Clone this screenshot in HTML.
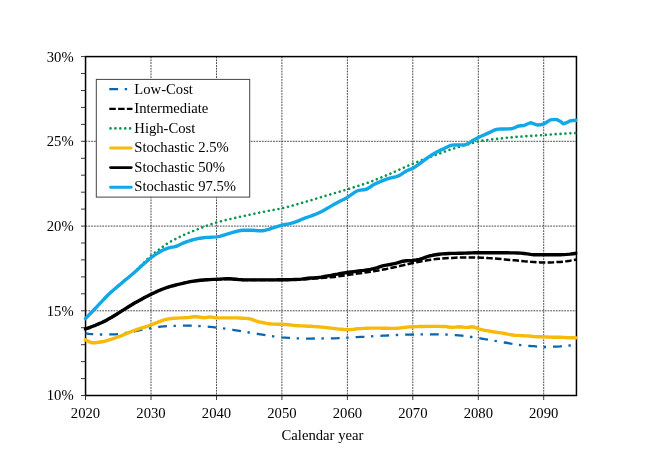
<!DOCTYPE html>
<html><head><meta charset="utf-8"><title>Chart</title>
<style>
html,body{margin:0;padding:0;background:#fff;}
svg{display:block;font-family:"Liberation Serif",serif;font-size:14.67px;fill:#000;}
.grid line{stroke:#2a2a2a;stroke-width:0.85;stroke-dasharray:1.8 1;}
.ticks line{stroke:#222;stroke-width:0.9;}
path{fill:none;stroke-linejoin:round;}
.low{stroke:#0b66b0;stroke-width:2.3;stroke-dasharray:8.8 6.6 2.4 7;stroke-dashoffset:1;}
.inter{stroke:#000;stroke-width:2.5;stroke-dasharray:6.5 2.3;}
.high{stroke:#06964f;stroke-width:2.6;stroke-dasharray:0.01 4.89;stroke-linecap:round;stroke-dashoffset:-2.85;}
.s025{stroke:#f7ba0a;stroke-width:3.4;stroke-linecap:round;}
.s50{stroke:#000;stroke-width:3.4;stroke-linecap:round;}
.s975{stroke:#12a8e8;stroke-width:3.4;stroke-linecap:round;}
.legend .s025,.legend .s50,.legend .s975{stroke-width:2.9;stroke-linecap:round;}
.legend .low,.legend .high{stroke-dashoffset:0;}
.legend .inter{stroke-width:2.3;}
</style></head><body>
<svg width="648" height="468" viewBox="0 0 648 468">
<rect x="0" y="0" width="648" height="468" fill="#fff"/>
<g class="grid"><line x1="151.0" y1="56.6" x2="151.0" y2="395.5"/><line x1="216.5" y1="56.6" x2="216.5" y2="395.5"/><line x1="281.9" y1="56.6" x2="281.9" y2="395.5"/><line x1="347.4" y1="56.6" x2="347.4" y2="395.5"/><line x1="412.8" y1="56.6" x2="412.8" y2="395.5"/><line x1="478.3" y1="56.6" x2="478.3" y2="395.5"/><line x1="543.7" y1="56.6" x2="543.7" y2="395.5"/><line x1="85.5" y1="310.8" x2="576.5" y2="310.8"/><line x1="85.5" y1="226.1" x2="576.5" y2="226.1"/><line x1="85.5" y1="141.3" x2="576.5" y2="141.3"/></g>
<rect x="85.55" y="56.6" width="490.90000000000003" height="338.9" fill="none" stroke="#000" stroke-width="1.5"/>
<g class="ticks"><line x1="81.0" y1="395.5" x2="85.5" y2="395.5"/><line x1="81.0" y1="378.6" x2="85.5" y2="378.6"/><line x1="81.0" y1="361.6" x2="85.5" y2="361.6"/><line x1="81.0" y1="344.7" x2="85.5" y2="344.7"/><line x1="81.0" y1="327.7" x2="85.5" y2="327.7"/><line x1="81.0" y1="310.8" x2="85.5" y2="310.8"/><line x1="81.0" y1="293.8" x2="85.5" y2="293.8"/><line x1="81.0" y1="276.9" x2="85.5" y2="276.9"/><line x1="81.0" y1="259.9" x2="85.5" y2="259.9"/><line x1="81.0" y1="243.0" x2="85.5" y2="243.0"/><line x1="81.0" y1="226.1" x2="85.5" y2="226.1"/><line x1="81.0" y1="209.1" x2="85.5" y2="209.1"/><line x1="81.0" y1="192.2" x2="85.5" y2="192.2"/><line x1="81.0" y1="175.2" x2="85.5" y2="175.2"/><line x1="81.0" y1="158.3" x2="85.5" y2="158.3"/><line x1="81.0" y1="141.3" x2="85.5" y2="141.3"/><line x1="81.0" y1="124.4" x2="85.5" y2="124.4"/><line x1="81.0" y1="107.4" x2="85.5" y2="107.4"/><line x1="81.0" y1="90.5" x2="85.5" y2="90.5"/><line x1="81.0" y1="73.5" x2="85.5" y2="73.5"/><line x1="81.0" y1="56.6" x2="85.5" y2="56.6"/><line x1="85.5" y1="395.5" x2="85.5" y2="400.0"/><line x1="151.0" y1="395.5" x2="151.0" y2="400.0"/><line x1="216.5" y1="395.5" x2="216.5" y2="400.0"/><line x1="281.9" y1="395.5" x2="281.9" y2="400.0"/><line x1="347.4" y1="395.5" x2="347.4" y2="400.0"/><line x1="412.8" y1="395.5" x2="412.8" y2="400.0"/><line x1="478.3" y1="395.5" x2="478.3" y2="400.0"/><line x1="543.7" y1="395.5" x2="543.7" y2="400.0"/></g>
<clipPath id="cp"><rect x="80" y="50" width="497.3" height="350"/></clipPath>
<g class="series" clip-path="url(#cp)">
<path class="low" d="M85.5,333.3 L88.8,333.8 L92.1,334.1 L95.4,334.4 L98.6,334.5 L101.9,334.5 L105.2,334.5 L108.5,334.4 L111.7,334.4 L115.0,334.3 L118.3,334.0 L121.5,333.6 L124.8,333.1 L128.1,332.5 L131.4,332.0 L134.6,331.4 L137.9,330.7 L141.2,330.0 L144.5,329.3 L147.7,328.6 L151.0,328.1 L154.3,327.6 L157.5,327.1 L160.8,326.6 L164.1,326.3 L167.4,326.0 L170.6,325.9 L173.9,325.8 L177.2,325.8 L180.5,325.7 L183.7,325.7 L187.0,325.7 L190.3,325.7 L193.5,325.8 L196.8,325.9 L200.1,326.1 L203.4,326.4 L206.6,326.6 L209.9,326.9 L213.2,327.2 L216.5,327.6 L219.7,327.9 L223.0,328.4 L226.3,328.8 L229.5,329.3 L232.8,329.8 L236.1,330.3 L239.4,330.8 L242.6,331.4 L245.9,331.9 L249.2,332.5 L252.5,333.0 L255.7,333.6 L259.0,334.1 L262.3,334.6 L265.5,335.1 L268.8,335.7 L272.1,336.2 L275.4,336.7 L278.6,337.1 L281.9,337.4 L285.2,337.6 L288.5,337.8 L291.7,338.0 L295.0,338.2 L298.3,338.4 L301.5,338.5 L304.8,338.5 L308.1,338.6 L311.4,338.6 L314.6,338.5 L317.9,338.5 L321.2,338.5 L324.5,338.4 L327.7,338.4 L331.0,338.3 L334.3,338.3 L337.5,338.2 L340.8,338.0 L344.1,337.9 L347.4,337.7 L350.6,337.5 L353.9,337.3 L357.2,337.1 L360.5,336.9 L363.7,336.8 L367.0,336.6 L370.3,336.4 L373.5,336.2 L376.8,336.0 L380.1,335.8 L383.4,335.6 L386.6,335.5 L389.9,335.3 L393.2,335.2 L396.5,335.0 L399.7,334.9 L403.0,334.8 L406.3,334.6 L409.5,334.6 L412.8,334.5 L416.1,334.5 L419.4,334.4 L422.6,334.4 L425.9,334.4 L429.2,334.3 L432.5,334.3 L435.7,334.3 L439.0,334.4 L442.3,334.4 L445.5,334.5 L448.8,334.6 L452.1,334.8 L455.4,335.1 L458.6,335.4 L461.9,335.7 L465.2,336.1 L468.5,336.5 L471.7,337.0 L475.0,337.5 L478.3,338.0 L481.5,338.6 L484.8,339.2 L488.1,339.7 L491.4,340.3 L494.6,340.8 L497.9,341.4 L501.2,342.0 L504.5,342.5 L507.7,343.0 L511.0,343.6 L514.3,344.1 L517.5,344.7 L520.8,345.1 L524.1,345.4 L527.4,345.7 L530.6,346.0 L533.9,346.2 L537.2,346.6 L540.5,346.9 L543.7,347.0 L547.0,347.0 L550.3,346.9 L553.5,346.7 L556.8,346.6 L560.1,346.4 L563.4,346.1 L566.6,345.8 L569.9,345.5 L573.2,345.3 L576.5,345.0"/>
<path class="inter" d="M85.5,328.9 L88.8,327.8 L92.1,326.5 L95.4,325.3 L98.6,323.9 L101.9,322.5 L105.2,320.9 L108.5,319.1 L111.7,317.3 L115.0,315.2 L118.3,313.2 L121.5,311.1 L124.8,309.1 L128.1,307.0 L131.4,305.0 L134.6,303.0 L137.9,301.2 L141.2,299.4 L144.5,297.6 L147.7,296.0 L151.0,294.3 L154.3,292.7 L157.5,291.2 L160.8,289.8 L164.1,288.5 L167.4,287.4 L170.6,286.4 L173.9,285.5 L177.2,284.6 L180.5,283.9 L183.7,283.1 L187.0,282.5 L190.3,281.8 L193.5,281.3 L196.8,280.8 L200.1,280.5 L203.4,280.2 L206.6,280.0 L209.9,279.8 L213.2,279.6 L216.5,279.4 L219.7,279.3 L223.0,279.2 L226.3,279.1 L229.5,279.1 L232.8,279.3 L236.1,279.6 L239.4,279.8 L242.6,280.0 L245.9,280.1 L249.2,280.1 L252.5,280.1 L255.7,280.1 L259.0,280.1 L262.3,280.1 L265.5,280.1 L268.8,280.1 L272.1,280.1 L275.4,280.0 L278.6,280.0 L281.9,279.9 L285.2,279.9 L288.5,279.8 L291.7,279.8 L295.0,279.7 L298.3,279.6 L301.5,279.4 L304.8,279.3 L308.1,279.0 L311.4,278.8 L314.6,278.6 L317.9,278.3 L321.2,278.1 L324.5,277.8 L327.7,277.5 L331.0,277.2 L334.3,276.9 L337.5,276.5 L340.8,276.0 L344.1,275.5 L347.4,275.0 L350.6,274.5 L353.9,274.1 L357.2,273.6 L360.5,273.2 L363.7,272.7 L367.0,272.2 L370.3,271.7 L373.5,271.2 L376.8,270.7 L380.1,270.1 L383.4,269.5 L386.6,268.9 L389.9,268.2 L393.2,267.5 L396.5,266.8 L399.7,266.0 L403.0,265.3 L406.3,264.5 L409.5,263.7 L412.8,263.0 L416.1,262.3 L419.4,261.7 L422.6,261.0 L425.9,260.5 L429.2,259.9 L432.5,259.5 L435.7,259.1 L439.0,258.8 L442.3,258.5 L445.5,258.2 L448.8,258.0 L452.1,257.9 L455.4,257.7 L458.6,257.5 L461.9,257.4 L465.2,257.4 L468.5,257.4 L471.7,257.4 L475.0,257.5 L478.3,257.6 L481.5,257.7 L484.8,257.8 L488.1,258.1 L491.4,258.3 L494.6,258.5 L497.9,258.8 L501.2,259.1 L504.5,259.4 L507.7,259.7 L511.0,260.0 L514.3,260.3 L517.5,260.6 L520.8,260.9 L524.1,261.3 L527.4,261.5 L530.6,261.8 L533.9,262.0 L537.2,262.3 L540.5,262.4 L543.7,262.5 L547.0,262.5 L550.3,262.4 L553.5,262.3 L556.8,262.1 L560.1,261.9 L563.4,261.6 L566.6,261.2 L569.9,260.7 L573.2,260.1 L576.5,259.6"/>
<path class="high" d="M85.5,318.6 L88.8,315.1 L92.1,311.7 L95.4,308.3 L98.6,304.8 L101.9,301.3 L105.2,297.8 L108.5,294.5 L111.7,291.5 L115.0,288.7 L118.3,285.9 L121.5,283.2 L124.8,280.4 L128.1,277.6 L131.4,274.8 L134.6,271.9 L137.9,268.8 L141.2,265.4 L144.5,262.0 L147.7,258.7 L151.0,255.7 L154.3,253.1 L157.5,250.7 L160.8,248.3 L164.1,245.7 L167.4,243.5 L170.6,241.6 L173.9,239.8 L177.2,238.1 L180.5,236.5 L183.7,235.0 L187.0,233.6 L190.3,232.2 L193.5,230.9 L196.8,229.6 L200.1,228.3 L203.4,227.0 L206.6,225.8 L209.9,224.6 L213.2,223.5 L216.5,222.5 L219.7,221.6 L223.0,220.7 L226.3,219.9 L229.5,219.2 L232.8,218.4 L236.1,217.7 L239.4,216.9 L242.6,216.2 L245.9,215.5 L249.2,214.8 L252.5,214.1 L255.7,213.4 L259.0,212.7 L262.3,212.1 L265.5,211.4 L268.8,210.8 L272.1,210.2 L275.4,209.6 L278.6,209.0 L281.9,208.3 L285.2,207.5 L288.5,206.6 L291.7,205.8 L295.0,204.8 L298.3,203.9 L301.5,203.0 L304.8,202.0 L308.1,201.1 L311.4,200.1 L314.6,199.1 L317.9,198.1 L321.2,197.1 L324.5,196.1 L327.7,195.2 L331.0,194.2 L334.3,193.2 L337.5,192.3 L340.8,191.3 L344.1,190.3 L347.4,189.3 L350.6,188.3 L353.9,187.3 L357.2,186.2 L360.5,185.2 L363.7,184.1 L367.0,183.0 L370.3,181.9 L373.5,180.6 L376.8,179.3 L380.1,178.0 L383.4,176.6 L386.6,175.3 L389.9,173.9 L393.2,172.4 L396.5,171.0 L399.7,169.5 L403.0,168.0 L406.3,166.5 L409.5,165.1 L412.8,163.7 L416.1,162.4 L419.4,161.1 L422.6,159.8 L425.9,158.6 L429.2,157.3 L432.5,156.1 L435.7,154.9 L439.0,153.7 L442.3,152.5 L445.5,151.3 L448.8,150.1 L452.1,149.0 L455.4,148.0 L458.6,147.0 L461.9,146.0 L465.2,145.1 L468.5,144.2 L471.7,143.3 L475.0,142.2 L478.3,141.3 L481.5,140.8 L484.8,140.3 L488.1,139.9 L491.4,139.5 L494.6,139.1 L497.9,138.8 L501.2,138.4 L504.5,138.1 L507.7,137.7 L511.0,137.4 L514.3,137.1 L517.5,136.8 L520.8,136.6 L524.1,136.3 L527.4,136.1 L530.6,135.9 L533.9,135.7 L537.2,135.5 L540.5,135.3 L543.7,135.1 L547.0,134.8 L550.3,134.6 L553.5,134.3 L556.8,134.1 L560.1,133.9 L563.4,133.7 L566.6,133.5 L569.9,133.3 L573.2,133.2 L576.5,133.0"/>
<path class="s025" d="M85.5,339.8 L88.8,341.7 L92.1,342.8 L95.4,342.7 L98.6,342.3 L101.9,341.8 L105.2,341.1 L108.5,340.2 L111.7,339.2 L115.0,338.0 L118.3,336.9 L121.5,335.6 L124.8,334.3 L128.1,332.9 L131.4,331.5 L134.6,330.3 L137.9,329.2 L141.2,328.1 L144.5,327.1 L147.7,326.1 L151.0,325.0 L154.3,323.7 L157.5,322.4 L160.8,321.1 L164.1,319.9 L167.4,319.1 L170.6,318.6 L173.9,318.3 L177.2,318.1 L180.5,317.9 L183.7,317.8 L187.0,317.6 L190.3,317.3 L193.5,316.8 L196.8,316.8 L200.1,317.2 L203.4,317.7 L206.6,317.5 L209.9,316.9 L213.2,317.4 L216.5,317.9 L219.7,317.9 L223.0,317.9 L226.3,317.9 L229.5,317.9 L232.8,317.9 L236.1,317.9 L239.4,318.0 L242.6,318.2 L245.9,318.4 L249.2,318.7 L252.5,319.6 L255.7,320.9 L259.0,321.8 L262.3,322.5 L265.5,323.2 L268.8,323.8 L272.1,324.0 L275.4,324.1 L278.6,324.2 L281.9,324.3 L285.2,324.5 L288.5,324.8 L291.7,325.1 L295.0,325.5 L298.3,325.7 L301.5,325.9 L304.8,326.0 L308.1,326.2 L311.4,326.3 L314.6,326.6 L317.9,326.8 L321.2,327.1 L324.5,327.4 L327.7,327.7 L331.0,328.1 L334.3,328.5 L337.5,328.9 L340.8,329.2 L344.1,329.5 L347.4,329.6 L350.6,329.5 L353.9,329.2 L357.2,328.8 L360.5,328.6 L363.7,328.4 L367.0,328.2 L370.3,328.1 L373.5,328.1 L376.8,328.1 L380.1,328.1 L383.4,328.2 L386.6,328.3 L389.9,328.4 L393.2,328.4 L396.5,328.2 L399.7,328.0 L403.0,327.6 L406.3,327.2 L409.5,326.9 L412.8,326.7 L416.1,326.6 L419.4,326.5 L422.6,326.5 L425.9,326.4 L429.2,326.4 L432.5,326.4 L435.7,326.4 L439.0,326.4 L442.3,326.5 L445.5,326.5 L448.8,327.0 L452.1,327.4 L455.4,327.1 L458.6,326.8 L461.9,327.0 L465.2,327.4 L468.5,327.2 L471.7,326.8 L475.0,327.3 L478.3,328.9 L481.5,329.7 L484.8,330.4 L488.1,330.9 L491.4,331.5 L494.6,332.0 L497.9,332.5 L501.2,332.9 L504.5,333.5 L507.7,334.2 L511.0,334.8 L514.3,335.2 L517.5,335.4 L520.8,335.6 L524.1,335.8 L527.4,335.9 L530.6,336.2 L533.9,336.5 L537.2,336.7 L540.5,336.8 L543.7,336.9 L547.0,337.0 L550.3,337.1 L553.5,337.2 L556.8,337.2 L560.1,337.3 L563.4,337.4 L566.6,337.6 L569.9,337.7 L573.2,337.8 L576.5,337.9"/>
<path class="s50" d="M85.5,328.9 L88.8,327.8 L92.1,326.5 L95.4,325.3 L98.6,323.9 L101.9,322.5 L105.2,320.9 L108.5,319.1 L111.7,317.3 L115.0,315.2 L118.3,313.2 L121.5,311.1 L124.8,309.1 L128.1,307.0 L131.4,305.0 L134.6,303.0 L137.9,301.2 L141.2,299.4 L144.5,297.6 L147.7,296.0 L151.0,294.3 L154.3,292.7 L157.5,291.2 L160.8,289.8 L164.1,288.5 L167.4,287.4 L170.6,286.4 L173.9,285.5 L177.2,284.6 L180.5,283.9 L183.7,283.1 L187.0,282.4 L190.3,281.7 L193.5,281.1 L196.8,280.7 L200.1,280.3 L203.4,280.0 L206.6,279.8 L209.9,279.6 L213.2,279.4 L216.5,279.3 L219.7,279.1 L223.0,278.9 L226.3,278.8 L229.5,278.8 L232.8,279.0 L236.1,279.3 L239.4,279.6 L242.6,279.8 L245.9,279.9 L249.2,279.9 L252.5,279.9 L255.7,279.9 L259.0,279.9 L262.3,279.9 L265.5,279.9 L268.8,279.9 L272.1,279.9 L275.4,279.9 L278.6,279.8 L281.9,279.8 L285.2,279.7 L288.5,279.7 L291.7,279.6 L295.0,279.5 L298.3,279.4 L301.5,279.1 L304.8,278.7 L308.1,278.3 L311.4,278.0 L314.6,277.8 L317.9,277.5 L321.2,277.1 L324.5,276.5 L327.7,275.9 L331.0,275.3 L334.3,274.6 L337.5,274.1 L340.8,273.5 L344.1,273.0 L347.4,272.5 L350.6,272.0 L353.9,271.6 L357.2,271.2 L360.5,270.8 L363.7,270.4 L367.0,269.9 L370.3,269.4 L373.5,268.7 L376.8,267.8 L380.1,266.6 L383.4,265.7 L386.6,265.1 L389.9,264.5 L393.2,263.8 L396.5,263.2 L399.7,262.2 L403.0,261.2 L406.3,260.7 L409.5,260.6 L412.8,260.4 L416.1,260.0 L419.4,259.3 L422.6,258.3 L425.9,257.1 L429.2,256.0 L432.5,255.3 L435.7,254.8 L439.0,254.3 L442.3,253.9 L445.5,253.7 L448.8,253.5 L452.1,253.4 L455.4,253.4 L458.6,253.3 L461.9,253.2 L465.2,253.1 L468.5,253.0 L471.7,252.9 L475.0,252.8 L478.3,252.8 L481.5,252.8 L484.8,252.8 L488.1,252.8 L491.4,252.8 L494.6,252.8 L497.9,252.8 L501.2,252.8 L504.5,252.8 L507.7,252.8 L511.0,252.9 L514.3,252.9 L517.5,253.0 L520.8,253.1 L524.1,253.5 L527.4,253.9 L530.6,254.4 L533.9,254.8 L537.2,254.8 L540.5,254.7 L543.7,254.7 L547.0,254.7 L550.3,254.8 L553.5,254.8 L556.8,254.8 L560.1,254.8 L563.4,254.6 L566.6,254.4 L569.9,254.1 L573.2,253.7 L576.5,253.3"/>
<path class="s975" d="M85.5,318.6 L88.8,315.1 L92.1,311.7 L95.4,308.3 L98.6,304.8 L101.9,301.3 L105.2,297.8 L108.5,294.5 L111.7,291.5 L115.0,288.7 L118.3,285.9 L121.5,283.2 L124.8,280.4 L128.1,277.7 L131.4,275.0 L134.6,272.2 L137.9,269.3 L141.2,266.3 L144.5,263.3 L147.7,260.4 L151.0,257.7 L154.3,255.3 L157.5,253.2 L160.8,251.3 L164.1,249.6 L167.4,248.3 L170.6,247.4 L173.9,246.8 L177.2,246.0 L180.5,244.3 L183.7,242.9 L187.0,241.6 L190.3,240.5 L193.5,239.6 L196.8,238.8 L200.1,238.2 L203.4,237.7 L206.6,237.4 L209.9,237.3 L213.2,237.1 L216.5,236.9 L219.7,236.3 L223.0,235.3 L226.3,234.3 L229.5,233.3 L232.8,232.4 L236.1,231.5 L239.4,230.7 L242.6,230.3 L245.9,230.3 L249.2,230.3 L252.5,230.3 L255.7,230.5 L259.0,230.8 L262.3,230.7 L265.5,230.2 L268.8,229.4 L272.1,228.2 L275.4,227.1 L278.6,226.1 L281.9,225.2 L285.2,224.5 L288.5,223.9 L291.7,223.2 L295.0,222.2 L298.3,220.9 L301.5,219.5 L304.8,218.2 L308.1,217.0 L311.4,215.9 L314.6,214.7 L317.9,213.3 L321.2,211.7 L324.5,209.9 L327.7,208.1 L331.0,206.1 L334.3,204.2 L337.5,202.5 L340.8,200.8 L344.1,199.2 L347.4,197.4 L350.6,195.2 L353.9,192.8 L357.2,190.9 L360.5,190.1 L363.7,189.8 L367.0,189.0 L370.3,187.0 L373.5,184.7 L376.8,183.1 L380.1,181.7 L383.4,180.4 L386.6,179.2 L389.9,178.2 L393.2,177.4 L396.5,176.6 L399.7,175.4 L403.0,173.2 L406.3,171.0 L409.5,169.6 L412.8,168.3 L416.1,166.2 L419.4,163.8 L422.6,161.3 L425.9,159.0 L429.2,156.7 L432.5,154.5 L435.7,152.6 L439.0,150.9 L442.3,149.4 L445.5,147.8 L448.8,146.2 L452.1,145.1 L455.4,145.0 L458.6,144.9 L461.9,144.9 L465.2,144.7 L468.5,143.5 L471.7,141.1 L475.0,139.3 L478.3,137.6 L481.5,136.0 L484.8,134.6 L488.1,133.1 L491.4,131.6 L494.6,130.0 L497.9,129.1 L501.2,129.0 L504.5,129.0 L507.7,128.9 L511.0,128.8 L514.3,127.9 L517.5,126.2 L520.8,125.8 L524.1,125.5 L527.4,124.0 L530.6,122.7 L533.9,123.8 L537.2,125.0 L540.5,124.8 L543.7,124.0 L547.0,122.0 L550.3,119.9 L553.5,119.6 L556.8,119.5 L560.1,121.2 L563.4,123.8 L566.6,122.7 L569.9,120.9 L573.2,120.5 L576.5,120.3"/>
</g>
<rect x="96.3" y="79.4" width="153.4" height="117.7" fill="#fff" stroke="#444" stroke-width="1"/>
<g class="legend"><path class="low" d="M109.3,89.2 L132.5,89.2"/><text x="134.3" y="93.75">Low-Cost</text><path class="inter" d="M109.3,108.8 L132.5,108.8"/><text x="134.3" y="113.25">Intermediate</text><path class="high" d="M110.5,128.4 L132.5,128.4"/><text x="134.3" y="132.75">High-Cost</text><path class="s025" d="M110.6,148.0 L131.2,148.0"/><text x="134.3" y="152.25">Stochastic 2.5%</text><path class="s50" d="M110.6,167.6 L131.2,167.6"/><text x="134.3" y="171.75">Stochastic 50%</text><path class="s975" d="M110.6,187.2 L131.2,187.2"/><text x="134.3" y="191.25">Stochastic 97.5%</text></g>
<g class="ylabels"><text x="73.6" y="399.90" text-anchor="end">10%</text><text x="73.6" y="315.97" text-anchor="end">15%</text><text x="73.6" y="231.05" text-anchor="end">20%</text><text x="73.6" y="146.22" text-anchor="end">25%</text><text x="73.6" y="61.60" text-anchor="end">30%</text></g>
<g class="xlabels"><text x="85.5" y="418.4" text-anchor="middle">2020</text><text x="151.0" y="418.4" text-anchor="middle">2030</text><text x="216.5" y="418.4" text-anchor="middle">2040</text><text x="281.9" y="418.4" text-anchor="middle">2050</text><text x="347.4" y="418.4" text-anchor="middle">2060</text><text x="412.8" y="418.4" text-anchor="middle">2070</text><text x="478.3" y="418.4" text-anchor="middle">2080</text><text x="543.7" y="418.4" text-anchor="middle">2090</text></g>
<text x="322.5" y="440.1" text-anchor="middle">Calendar year</text>
</svg>
</body></html>
